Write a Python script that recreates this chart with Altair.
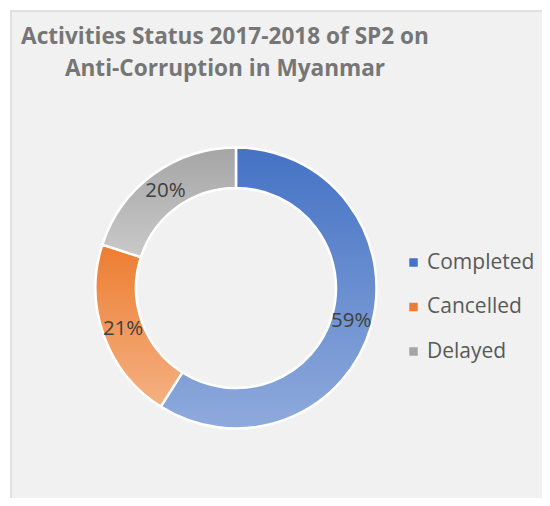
import altair as alt
import pandas as pd

categories = ["Completed", "Cancelled", "Delayed"]
values = [59, 21, 20]
labels = ["59%", "21%", "20%"]
solid_colors = ["#4472C4", "#ED7D31", "#A5A5A5"]
grad_top = ["#4472C4", "#ED7D31", "#A5A5A5"]
grad_bottom = ["#8FAADC", "#F4B183", "#C9C9C9"]
title_lines = ["Activities Status 2017-2018 of SP2 on", "Anti-Corruption in Myanmar"]

df = pd.DataFrame({
    "category": categories,
    "value": values,
    "label": labels,
    "idx": list(range(len(categories))),
})


def grad(top, bottom):
    return {
        "gradient": "linear",
        "x1": 0, "y1": 0, "x2": 0, "y2": 1,
        "stops": [{"offset": 0, "color": top}, {"offset": 1, "color": bottom}],
    }


grads = [grad(t, b) for t, b in zip(grad_top, grad_bottom)]

CX, CY = 225, 277
INNER, OUTER = 100, 140.5
FONT = "Open Sans"

frame = (
    alt.Chart(df)
    .transform_aggregate(n="count()")
    .mark_rect(fill="#f1f1f1", stroke="#d9d9d9", strokeWidth=1.5)
    .encode(x=alt.value(0), x2=alt.value(560), y=alt.value(0), y2=alt.value(520))
)

base = alt.Chart(df).encode(
    theta=alt.Theta("value:Q", stack=True),
    order=alt.Order("idx:Q"),
)

legend_layer = base.mark_arc(innerRadius=INNER, outerRadius=OUTER, x=CX, y=CY).encode(
    color=alt.Color(
        "category:N",
        scale=alt.Scale(domain=categories, range=solid_colors),
        sort=categories,
        legend=alt.Legend(
            title=None,
            orient="none",
            legendX=392,
            legendY=241,
            symbolType="square",
            symbolSize=72,
            symbolStrokeWidth=0,
            labelFont=FONT,
            labelFontSize=21,
            labelColor="#595959",
            rowPadding=22.5,
            labelOffset=3,
        ),
    )
)

fill_def = {
    "condition": [
        {"test": f"datum.category === '{categories[0]}'", "value": grads[0]},
        {"test": f"datum.category === '{categories[1]}'", "value": grads[1]},
    ],
    "value": grads[2],
}

grad_layer = base.mark_arc(
    innerRadius=INNER, outerRadius=OUTER, x=CX, y=CY, stroke="white", strokeWidth=2.5
).encode(fill=fill_def)

text_layer = base.mark_text(
    radius=120, x=CX, y=CY, font=FONT, fontSize=20.5, color="#404040"
).encode(text="label:N")

chart = (
    alt.layer(frame, legend_layer, grad_layer, text_layer)
    .properties(
        width=531,
        height=487,
        autosize=alt.AutoSizeParams(type="none"),
        padding={"left": 3, "top": 3, "right": 0, "bottom": 0},
        title=alt.Title(
            title_lines,
            anchor="middle",
            frame="group",
            offset=-70,
            dx=-51.5,
            font=FONT,
            fontSize=22.6,
            fontWeight="bold",
            color="#767676",
            lineHeight=32,
        ),
    )
    .configure_view(stroke=None)
)

chart.save("out.html", embed_options={"renderer": "svg", "actions": False})
